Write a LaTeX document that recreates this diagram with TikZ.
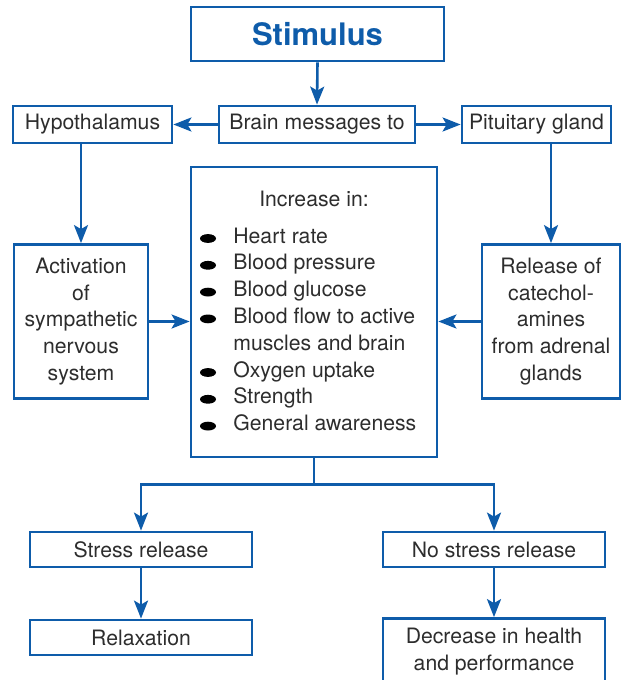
\documentclass[tikz,border=0pt]{standalone}
\usepackage{fontspec}
\setmainfont{TeX Gyre Heros}
\usetikzlibrary{
  calc,
  positioning,
  arrows.meta
}
\definecolor{flowblue}{RGB}{14,92,170}
\definecolor{flowtext}{RGB}{45,45,45}
\tikzset{
  box/.style={draw=flowblue,line width=1.4pt,inner sep=0pt,align=center,
    text=flowtext,font=\fontsize{10.6}{13.4}\selectfont},
  listitem/.style={inner sep=0pt,anchor=base west,
    text=flowtext,font=\fontsize{10.6}{13.4}\selectfont},
  flow/.style={draw=flowblue,line width=1.3pt,
    -{Stealth[length=9pt,width=7pt,inset=2pt]}}
}

\begin{document}
\begin{tikzpicture}[x=0.5pt,y=-0.5pt]
    \useasboundingbox (0,0) rectangle (621,680);

    \node[box,minimum width=126.5pt,minimum height=27pt,text=flowblue,
      font=\fontsize{15.5}{18}\bfseries\selectfont] (stim) at (317.5,34) {Stimulus};
    \node[box,minimum width=98pt,minimum height=18.5pt] (brain) at (317,124.5) {Brain messages to};
    \node[box,minimum width=79.5pt,minimum height=18.5pt] (hypo) at (92.5,124.5) {Hypothalamus};
    \node[box,minimum width=74.5pt,minimum height=18.5pt] (pit) at (536.5,124.5) {Pituitary gland};
    \node[box,minimum width=67pt,minimum height=77pt] (act) at (81,321.5) {Activation\\of\\sympathetic\\nervous\\system};
    \node[box,minimum width=123pt,minimum height=145pt] (inc) at (314,312) {};
    \node[box,minimum width=69pt,minimum height=77pt] (rel) at (551,321.5) {Release of\\catechol-\\amines\\from adrenal\\glands};
    \node[box,minimum width=111pt,minimum height=17.5pt] (sr) at (141,549.5) {Stress release};
    \node[box,minimum width=111pt,minimum height=17.5pt] (nsr) at (494,549.5) {No stress release};
    \node[box,minimum width=111pt,minimum height=17.5pt] (relax) at (141,637.5) {Relaxation};
    \node[box,minimum width=111pt,minimum height=33pt] (dec) at (494,651.5) {Decrease in health\\and performance};

    % contents of the central box
    \node[listitem,anchor=base] (head) at (314,206.5) {Increase in:};
    \foreach \txt/\row/\dot in {Heart rate/0/1,Blood pressure/1/1,Blood glucose/2/1,
      Blood flow to active/3/1,muscles and brain/4/0,Oxygen uptake/5/1,Strength/6/1,
      General awareness/7/1}{
      \node[listitem] (item\row) at (233,{243+26.8*\row}) {\txt};
      \ifnum\dot=1
        \fill[black] (208,{238.5+26.8*\row}) ellipse[x radius=4pt,y radius=2.2pt];
      \fi
    }

    \draw[flow] (stim.south) -- (brain.north);
    \draw[flow] (brain.west) -- (hypo.east);
    \draw[flow] (brain.east) -- (pit.west);
    \draw[flow] (hypo.south -| act.north) -- (act.north);
    \draw[flow] (pit.south -| rel.north) -- (rel.north);
    \draw[flow] (act.east) -- (act.east -| inc.west);
    \draw[flow] (rel.west) -- (rel.west -| inc.east);
    \coordinate (fork) at ($(inc.south)+(0,26)$);
    \draw[flow,-] (inc.south) -- (fork);
    \draw[flow] (fork) -| (sr.north);
    \draw[flow] (fork) -| (nsr.north);
    \draw[flow] (sr.south) -- (relax.north);
    \draw[flow] (nsr.south) -- (dec.north);
\end{tikzpicture}
\end{document}
